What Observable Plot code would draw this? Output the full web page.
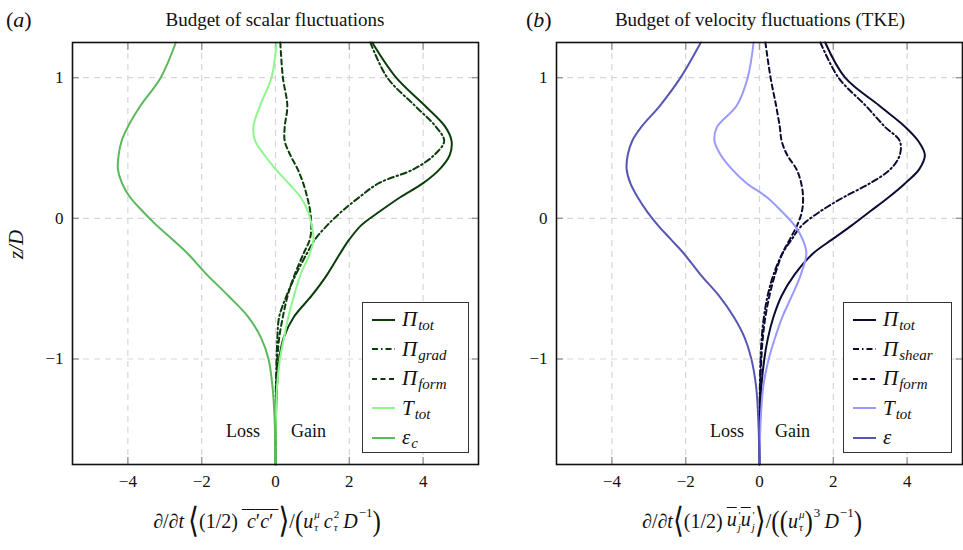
<!DOCTYPE html>
<html>
<head>
<meta charset="utf-8">
<script src="https://cdn.jsdelivr.net/npm/d3@7"></script>
<script src="https://cdn.jsdelivr.net/npm/@observablehq/plot@0.6"></script>
<style>
  html, body { margin: 0; padding: 0; background: #fff; }
  #fig { position: relative; width: 963px; height: 550px; font-family: "Liberation Serif", "Times New Roman", Tinos, "DejaVu Serif", "Noto Serif", serif; color: #111; overflow: hidden; }
  #fig svg.plot { position: absolute; top: 0; }
  .title { position: absolute; top: 9px; font-size: 19px; white-space: nowrap; transform: translateX(-50%); }
  .tag { position: absolute; top: 7px; font-size: 22px; }
  .ylab { position: absolute; left: 2px; top: 232px; font-size: 21px; font-style: italic; transform: rotate(-90deg); transform-origin: center; }
  .xlab { position: absolute; top: 507px; font-size: 20px; white-space: nowrap; transform: translateX(-50%); display: flex; align-items: center; }
  .big { font-size: 28px; line-height: 1; display: inline-block; transform: scaleY(1.25); }
  .par { font-size: 25px; line-height: 1; display: inline-block; transform: scaleY(1.15); }
  .ss { display: inline-flex; flex-direction: column; font-size: 11px; line-height: 1.15; vertical-align: middle; margin-left: 1px; font-style: italic; }
  .sp { font-size: 13px; position: relative; top: -8px; margin-left: 1px; }
  .ol { text-decoration: overline; text-decoration-thickness: 1.3px; }
  .legend { position: absolute; border: 1.3px solid #333; background: #fff; box-sizing: border-box; padding: 2px 0 0 9px; }
  .legend .row { display: flex; align-items: center; height: 29.5px; }
  .legend .row svg { margin-right: 7px; flex: none; }
  .legend .sym { font-size: 21px; font-style: italic; line-height: 1; }
  .legend sub { font-size: 15px; font-style: italic; position: relative; top: 6px; vertical-align: baseline; line-height: 1; margin-left: 1px; }
</style>
</head>
<body>
<div id="fig"></div>
<script>
// Vertical profiles: height z/D and budget terms at each height
const z = [1.25, 1.0, 0.8, 0.65, 0.55, 0.45, 0.35, 0.25, 0.15, 0.05, -0.05, -0.15, -0.25, -0.4, -0.55, -0.7, -0.85, -1.0, -1.2, -1.45, -1.75];

// (a) scalar fluctuation budget
const scalarPiTot  = [2.62, 3.27, 4.05, 4.6, 4.77, 4.72, 4.45, 4.0, 3.38, 2.83, 2.32, 2.0, 1.75, 1.4, 0.98, 0.5, 0.22, 0.1, 0.04, 0.01, 0];
const scalarPiGrad = [2.57, 3.03, 3.78, 4.35, 4.57, 4.3, 3.75, 2.8, 2.27, 1.8, 1.4, 1.07, 0.85, 0.55, 0.3, 0.1, 0.05, 0.03, 0.01, 0, 0];
const scalarPiForm = [0.13, 0.2, 0.32, 0.25, 0.25, 0.4, 0.6, 0.75, 0.86, 0.94, 0.97, 0.93, 0.76, 0.52, 0.33, 0.2, 0.1, 0.05, 0.02, 0.01, 0];
const scalarTTot   = [0.03, -0.11, -0.42, -0.6, -0.55, -0.3, 0.0, 0.35, 0.68, 0.88, 0.98, 1.03, 0.93, 0.68, 0.5, 0.35, 0.23, 0.12, 0.04, 0.01, 0];
const scalarEps    = [-2.7, -3.11, -3.66, -4.0, -4.17, -4.25, -4.27, -4.16, -3.94, -3.6, -3.22, -2.79, -2.38, -1.86, -1.28, -0.74, -0.39, -0.19, -0.08, -0.02, 0];

// (b) turbulent kinetic energy budget
const tkePiTot   = [1.78, 2.32, 3.25, 3.95, 4.3, 4.48, 4.33, 3.95, 3.5, 3.0, 2.5, 1.97, 1.45, 0.95, 0.6, 0.38, 0.23, 0.13, 0.05, 0.01, 0];
const tkePiShear = [1.65, 2.14, 2.88, 3.4, 3.8, 3.8, 3.55, 3.0, 2.28, 1.65, 1.15, 0.87, 0.62, 0.38, 0.22, 0.12, 0.06, 0.03, 0.01, 0, 0];
const tkePiForm  = [0.16, 0.3, 0.45, 0.55, 0.6, 0.75, 1.0, 1.13, 1.18, 1.15, 1.02, 0.82, 0.62, 0.42, 0.27, 0.16, 0.09, 0.05, 0.02, 0.01, 0];
const tkeTTot    = [-0.16, -0.32, -0.62, -1.15, -1.22, -1.05, -0.75, -0.35, 0.2, 0.6, 0.95, 1.17, 1.27, 1.12, 0.88, 0.62, 0.42, 0.25, 0.1, 0.03, 0];
const tkeEps     = [-1.59, -2.14, -2.7, -3.2, -3.45, -3.57, -3.6, -3.5, -3.3, -3.05, -2.75, -2.4, -2.05, -1.6, -1.1, -0.7, -0.4, -0.22, -0.09, -0.03, 0];

const xTicks = [-4, -2, 0, 2, 4];
const zTicks = [-1, 0, 1];
const xDomain = [-5.5, 5.5];
const zDomain = [-1.75, 1.25];
const sideLabels = ["Loss", "Gain"];
const sideX = [-0.42, 0.42];
const sideZ = -1.51;

const dashed = "5,3.5";
const dashDot = "6,3,1.5,3";
const solid = null;

const fmt = d => d < 0 ? "\u2212" + (-d) : String(d);
const serif = "'Liberation Serif', 'Times New Roman', Tinos, 'DejaVu Serif', 'Noto Serif', serif";

function profile(values) {
  return values.map((v, i) => ({x: v, z: z[i]}));
}

function panel({series, width, marginLeft, marginRight, left}) {
  const marks = [
    Plot.gridX(xTicks, {stroke: "#d6d6d6", strokeOpacity: 1, strokeWidth: 1.2, strokeDasharray: "6,5"}),
    Plot.gridY(zTicks, {stroke: "#d6d6d6", strokeOpacity: 1, strokeWidth: 1.2, strokeDasharray: "6,5"}),
    // inward tick marks on all four sides
    Plot.axisX(xTicks, {anchor: "bottom", tickSize: -7, tickFormat: () => "", stroke: "#999", strokeWidth: 1.4}),
    Plot.axisX(xTicks, {anchor: "top", tickSize: -7, tickFormat: () => "", stroke: "#999", strokeWidth: 1.4}),
    Plot.axisY(zTicks, {anchor: "left", tickSize: -7, tickFormat: () => "", stroke: "#999", strokeWidth: 1.4}),
    Plot.axisY(zTicks, {anchor: "right", tickSize: -7, tickFormat: () => "", stroke: "#999", strokeWidth: 1.4}),
    // tick labels
    Plot.axisX(xTicks, {anchor: "bottom", tickSize: 0, tickPadding: 10, tickFormat: fmt, fontSize: 17, fill: "#111"}),
    Plot.axisY(zTicks, {anchor: "left", tickSize: 0, tickPadding: 9, tickFormat: fmt, fontSize: 17, fill: "#111"}),
    Plot.text([sideLabels[0]], {x: () => sideX[0], y: () => sideZ, text: d => d, textAnchor: "end", fontSize: 18, fill: "#111"}),
    Plot.text([sideLabels[1]], {x: () => sideX[1], y: () => sideZ, text: d => d, textAnchor: "start", fontSize: 18, fill: "#111"})
  ];
  for (const s of series) {
    marks.push(Plot.line(profile(s.values), {
      x: "x", y: "z", stroke: s.color, strokeWidth: 2, curve: "catmull-rom",
      strokeDasharray: s.dash, strokeLinejoin: "round"
    }));
  }
  marks.push(Plot.frame({stroke: "#111", strokeWidth: 1.6}));
  const svg = Plot.plot({
    width, height: 550,
    marginTop: 42, marginBottom: 86, marginLeft, marginRight,
    style: {fontFamily: serif, background: "transparent", overflow: "visible"},
    x: {domain: xDomain, label: null},
    y: {domain: zDomain, label: null},
    marks
  });
  svg.classList.add("plot");
  svg.style.left = left + "px";
  return svg;
}

const green = {dark: "#0b3d0b", light: "#8ff58f", mid: "#5cb85c"};
const blue = {dark: "#0c0c33", light: "#9999ff", mid: "#5757b3"};

const seriesA = [
  {name: ["\u03A0", "tot"], values: scalarPiTot, color: green.dark, dash: solid},
  {name: ["\u03A0", "grad"], values: scalarPiGrad, color: green.dark, dash: dashDot},
  {name: ["\u03A0", "form"], values: scalarPiForm, color: green.dark, dash: dashed},
  {name: ["T", "tot"], values: scalarTTot, color: green.light, dash: solid},
  {name: ["\u03B5", "c"], values: scalarEps, color: green.mid, dash: solid}
];
const seriesB = [
  {name: ["\u03A0", "tot"], values: tkePiTot, color: blue.dark, dash: solid},
  {name: ["\u03A0", "shear"], values: tkePiShear, color: blue.dark, dash: dashDot},
  {name: ["\u03A0", "form"], values: tkePiForm, color: blue.dark, dash: dashed},
  {name: ["T", "tot"], values: tkeTTot, color: blue.light, dash: solid},
  {name: ["\u03B5", ""], values: tkeEps, color: blue.mid, dash: solid}
];

const fig = document.getElementById("fig");
fig.appendChild(panel({series: seriesA, width: 481, marginLeft: 72, marginRight: 3, left: 0}));
fig.appendChild(panel({series: seriesB, width: 482, marginLeft: 75, marginRight: 1, left: 481}));

function legend(series, left, top, width, height) {
  const box = document.createElement("div");
  box.className = "legend";
  Object.assign(box.style, {left: left + "px", top: top + "px", width: width + "px", height: height + "px"});
  for (const s of series) {
    const row = document.createElement("div");
    row.className = "row";
    const dash = s.dash ? ` stroke-dasharray="${s.dash}"` : "";
    row.innerHTML = `<svg width="23" height="10"><line x1="0" y1="5" x2="23" y2="5" stroke="${s.color}" stroke-width="2"${dash}/></svg>` +
      `<span class="sym">${s.name[0]}</span>` + (s.name[1] ? `<sub>${s.name[1]}</sub>` : "");
    box.appendChild(row);
  }
  fig.appendChild(box);
}
legend(seriesA, 362, 302, 107, 151);
legend(seriesB, 843, 302, 109, 151);

function addHTML(cls, html, style) {
  const el = document.createElement("div");
  el.className = cls;
  el.innerHTML = html;
  Object.assign(el.style, style);
  fig.appendChild(el);
}
addHTML("tag", "(<i>a</i>)", {left: "6px"});
addHTML("tag", "(<i>b</i>)", {left: "526px"});
addHTML("title", "Budget of scalar fluctuations", {left: "275px"});
addHTML("title", "Budget of velocity fluctuations (TKE)", {left: "760px"});
addHTML("ylab", "z/D", {});
addHTML("xlab",
  "\u2202/\u2202<i>t</i>&thinsp;<span class='big'>\u27E8</span>(1/2)&thinsp;<span class='ol'>&nbsp;<i>c</i>\u2032<i>c</i>\u2032&nbsp;</span><span class='big'>\u27E9</span>/<span class='par'>(</span><i>u</i><span class='ss'><span>\u03BC</span><span>\u03C4</span></span>&thinsp;<i>c</i><span class='ss'><span style='font-style:normal'>2</span><span>\u03C4</span></span>&thinsp;<i>D</i><span class='sp'>\u22121</span><span class='par'>)</span>",
  {left: "267px"});
addHTML("xlab",
  "\u2202/\u2202<i>t</i><span class='big'>\u27E8</span>(1/2)&thinsp;<span class='ol'><i>u</i><span class='ss'><span>\u2032</span><span>j</span></span><i>u</i><span class='ss'><span>\u2032</span><span>j</span></span></span><span class='big'>\u27E9</span>/<span class='par'>(</span><span class='par'>(</span><i>u</i><span class='ss'><span>\u03BC</span><span>\u03C4</span></span><span class='par'>)</span><span class='sp'>3</span>&thinsp;<i>D</i><span class='sp'>\u22121</span><span class='par'>)</span>",
  {left: "752px"});
</script>
</body>
</html>
